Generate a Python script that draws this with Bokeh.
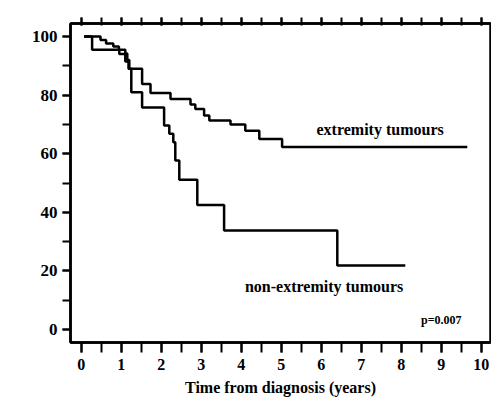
from bokeh.plotting import figure
from bokeh.models import Range1d, LinearAxis, SingleIntervalTicker, Label
from bokeh.embed import file_html
from bokeh.resources import INLINE
from bokeh.core.properties import value

# Kaplan-Meier step data (years, % surviving)
ext_t = [0.07, 0.48, 0.62, 0.80, 0.94, 1.10, 1.15, 1.20, 1.52, 1.73, 2.23, 2.73, 2.85, 3.07, 3.20, 3.73, 4.10, 4.45, 5.02]
ext_s = [100, 98.8, 97.6, 96.6, 95.5, 94.2, 92.0, 89.0, 83.8, 80.7, 78.7, 76.8, 75.3, 73.0, 71.3, 70.0, 67.8, 65.0, 62.3]
ext_end = 9.65

non_t = [0.07, 0.27, 0.95, 1.10, 1.18, 1.25, 1.52, 2.07, 2.20, 2.30, 2.35, 2.45, 2.90, 3.57, 6.40]
non_s = [100, 95.5, 94.0, 91.5, 89.0, 81.0, 75.8, 69.6, 66.8, 63.9, 57.7, 51.1, 42.5, 33.8, 21.8]
non_end = 8.1

curve_labels = ["extremity tumours", "non-extremity tumours"]
curve_label_x = [7.47, 6.07]
curve_label_y = [68.3, 14.7]
p_text = "p=0.007"
p_x, p_y = 9.0, 3.1

x_title = "Time from diagnosis (years)"
y_title = "%"

FONT = "Liberation Serif"

p = figure(width=491, height=401,
           x_range=Range1d(-0.27, 10.23), y_range=Range1d(-4.44, 104.44),
           output_backend="svg", toolbar_location=None,
           min_border_left=70, min_border_right=1, min_border_top=23, min_border_bottom=59)
p.xgrid.visible = False
p.ygrid.visible = False
p.outline_line_color = "black"
p.outline_line_width = 2.5
p.background_fill_color = "white"
p.border_fill_color = "white"

def style_axis(ax):
    ax.axis_line_width = 2.5
    ax.axis_line_color = "black"
    ax.major_tick_line_width = 2
    ax.minor_tick_line_width = 2
    ax.major_tick_line_color = "black"
    ax.minor_tick_line_color = "black"
    ax.major_tick_in = 0
    ax.minor_tick_in = 0
    ax.major_label_text_font = FONT
    ax.major_label_text_font_style = "bold"
    ax.major_label_text_color = "black"

bottom = p.xaxis[0]
bottom.ticker = SingleIntervalTicker(interval=1, num_minor_ticks=2)
style_axis(bottom)
bottom.major_tick_out = 10
bottom.minor_tick_out = 10
bottom.major_label_text_font_size = "16px"
bottom.major_label_standoff = 6
bottom.axis_label = x_title
bottom.axis_label_text_font = FONT
bottom.axis_label_text_font_style = "bold"
bottom.axis_label_text_font_size = "16px"
bottom.axis_label_text_color = "black"
bottom.axis_label_standoff = 6

left = p.yaxis[0]
left.ticker = SingleIntervalTicker(interval=20, num_minor_ticks=2)
style_axis(left)
left.major_tick_out = 8
left.minor_tick_out = 8
left.major_label_text_font_size = "17px"
left.major_label_standoff = 5

# top axis: tick marks only, drawn with the same x ticker
top = LinearAxis(ticker=SingleIntervalTicker(interval=1, num_minor_ticks=2))
style_axis(top)
top.major_tick_out = 6
top.minor_tick_out = 6
top.major_tick_in = 2
top.minor_tick_in = 2
top.major_label_text_alpha = 0
top.major_label_text_font_size = "8px"
top.major_label_standoff = 0
p.add_layout(top, "above")

# survival curves
p.step(ext_t + [ext_end], ext_s + [ext_s[-1]], mode="after", line_color="black", line_width=2.5)
p.step(non_t + [non_end], non_s + [non_s[-1]], mode="after", line_color="black", line_width=2.5)

p.text(x=curve_label_x, y=curve_label_y, text=curve_labels,
       text_font=value(FONT), text_font_style="bold", text_font_size="16px",
       text_align="center", text_baseline="middle", text_color="black")
p.text(x=[p_x], y=[p_y], text=[p_text],
       text_font=value(FONT), text_font_style="bold", text_font_size="12px",
       text_align="center", text_baseline="middle", text_color="black")

p.add_layout(Label(x=-1.58, y=50, text=y_title, text_align="center", text_baseline="middle",
                   text_font=FONT, text_font_style="bold", text_font_size="18px", text_color="black"))

open("out.html", "w").write(file_html(p, INLINE))
